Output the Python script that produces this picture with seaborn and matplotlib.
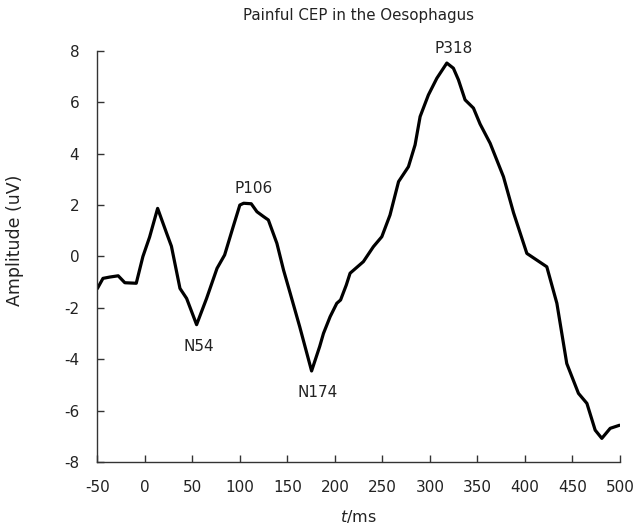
import seaborn as sns
import matplotlib.pyplot as plt
import pandas as pd

# -------------------------------
# Data
# -------------------------------
time_ms = [-50, -44, -37, -28, -21, -9, -2, 5, 13.5, 23, 28, 37, 44, 54.5, 65, 76, 84, 93,
           100, 104, 112, 118, 125, 130, 139, 146, 153, 163, 175.5, 184, 188, 195, 202,
           206, 212, 216, 230, 240.5, 249.4, 258, 267, 277.4, 284.4, 289.7, 298.4, 307.3,
           317.8, 324.7, 330, 337, 345.8, 352.8, 363.4, 377.4, 388, 402, 412.5, 423, 433.6,
           444, 456.3, 465.2, 473.9, 480.9, 489.7, 499.5]
amplitude = [-1.25, -0.85, -0.8, -0.75, -1.02, -1.04, 0.0, 0.75, 1.87, 0.9, 0.4, -1.24, -1.63,
             -2.65, -1.63, -0.46, 0.06, 1.16, 2.0, 2.07, 2.05, 1.74, 1.55, 1.42, 0.51, -0.53,
             -1.43, -2.73, -4.45, -3.5, -2.99, -2.34, -1.82, -1.69, -1.11, -0.65, -0.2, 0.38,
             0.77, 1.61, 2.91, 3.49, 4.34, 5.44, 6.28, 6.93, 7.52, 7.32, 6.87, 6.09, 5.77,
             5.15, 4.4, 3.1, 1.7, 0.12, -0.14, -0.4, -1.82, -4.16, -5.32, -5.71, -6.75,
             -7.07, -6.68, -6.56]

peak_labels = ["N54", "P106", "N174", "P318"]
peak_x = [57, 114, 182, 324.5]
peak_y = [-3.5, 2.65, -5.3, 8.1]

df = pd.DataFrame({"t": time_ms, "amp": amplitude})

# -------------------------------
# Plot
# -------------------------------
sns.set_style("ticks")
plt.rcParams["font.family"] = ["DejaVu Sans"]
plt.rcParams["axes.unicode_minus"] = False
plt.rcParams["xtick.direction"] = "in"
plt.rcParams["ytick.direction"] = "in"

fig = plt.figure(figsize=(6.43, 5.31), dpi=100)
ax = fig.add_axes([0.1513, 0.1294, 0.8129, 0.7751])

sns.lineplot(data=df, x="t", y="amp", sort=False, color="black", linewidth=2.3, ax=ax)

for lab, px, py in zip(peak_labels, peak_x, peak_y):
    ax.text(px, py, lab, ha="center", va="center", fontsize=11, color="#222222")

ax.set_xlim(-50, 500)
ax.set_ylim(-8, 8)
ax.set_xticks(range(-50, 501, 50))
ax.set_yticks(range(-8, 9, 2))
ax.tick_params(axis="both", length=5, width=1, labelsize=11, colors="#333333",
               labelcolor="#222222")
ax.tick_params(axis="x", pad=13)
ax.tick_params(axis="y", pad=13)

ax.set_title("Painful CEP in the Oesophagus", fontsize=10.8, color="#222222", pad=22)
ax.set_ylabel("Amplitude (uV)", fontsize=12.5, color="#222222")
ax.yaxis.set_label_coords(-0.14, 0.54)
ax.set_xlabel(r"$\it{t}$/ms", fontsize=11.5, color="#222222")
ax.xaxis.set_label_coords(0.5, -0.11)

sns.despine(ax=ax)
for s in ["left", "bottom"]:
    ax.spines[s].set_color("#333333")
    ax.spines[s].set_linewidth(1.0)

fig.savefig("out.png", dpi=100)
plt.close(fig)
